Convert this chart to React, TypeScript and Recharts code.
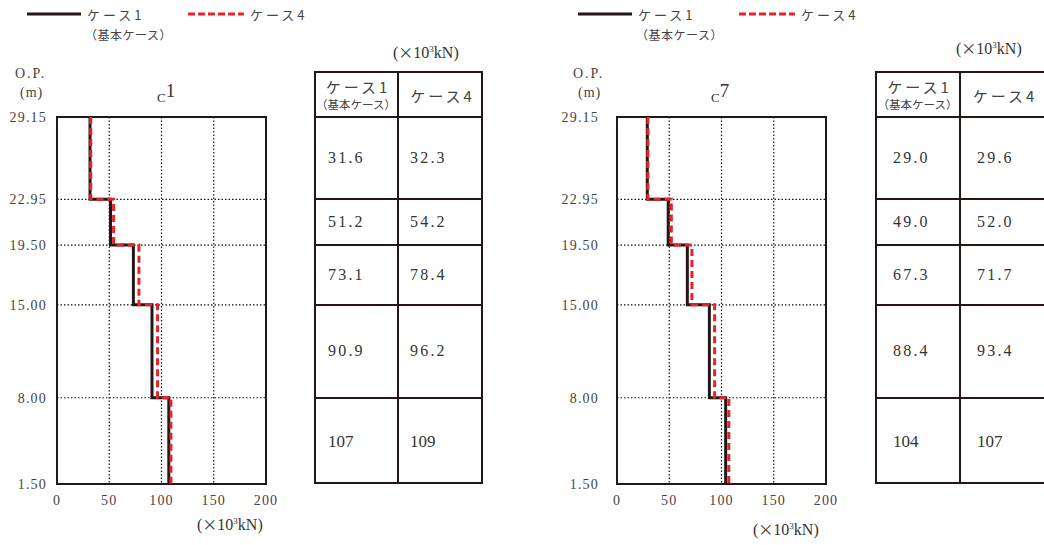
import { LineChart, Line, XAxis, YAxis, CartesianGrid, ReferenceArea } from "recharts";

// elevations (O.P. m) of the step boundaries, top to bottom
const levels = [29.15, 22.95, 19.5, 15.0, 8.0, 1.5];
const xTicks = [0, 50, 100, 150, 200];

const c1Case1 = [31.6, 51.2, 73.1, 90.9, 107];
const c1Case4 = [32.3, 54.2, 78.4, 96.2, 109];
const c7Case1 = [29.0, 49.0, 67.3, 88.4, 104];
const c7Case4 = [29.6, 52.0, 71.7, 93.4, 107];

const c1Text1 = ["31.6", "51.2", "73.1", "90.9", "107"];
const c1Text4 = ["32.3", "54.2", "78.4", "96.2", "109"];
const c7Text1 = ["29.0", "49.0", "67.3", "88.4", "104"];
const c7Text4 = ["29.6", "52.0", "71.7", "93.4", "107"];

const case1Label = "ケース1";
const case1Sub = "（基本ケース）";
const case4Label = "ケース4";

const BLACK = "#231815";
const RED = "#e8222b";
const serif = '"Liberation Serif", "Noto Sans CJK JP", serif';
const jp = '"Noto Sans CJK JP", sans-serif';

const PLOT_TOP = 117;
const PLOT_BOTTOM = 484;
const yPx = (lv: number) =>
  PLOT_TOP + ((levels[0] - lv) / (levels[0] - levels[levels.length - 1])) * (PLOT_BOTTOM - PLOT_TOP);

const toSteps = (vals: number[]) =>
  vals.flatMap((v, i) => [
    { x: v, y: levels[i] },
    { x: v, y: levels[i + 1] },
  ]);

type PanelProps = {
  left: number;
  tickGap: number;
  legendX: number;
  titleX: number;
  title: string;
  opX: number;
  unitX: number;
  unitY: number;
  tableL: number;
  tableSplit: number;
  tableR: number;
  tableUnitX: number;
  tableUnitY: number;
  padL: number;
  padR: number;
  case1: number[];
  case4: number[];
  text1: string[];
  text4: string[];
};

const tickStyle = { fontFamily: serif, fontSize: 14, fill: "#444", letterSpacing: 1.2 };

function Unit({ x, y }: { x: number; y: number }) {
  return (
    <div style={{ position: "absolute", left: x, top: y, transform: "translateY(-50%)", fontFamily: serif, fontSize: 16, color: "#333", whiteSpace: "nowrap", lineHeight: 1 }}>
      (<span style={{ fontFamily: jp, fontSize: 15 }}>×</span>10<span style={{ fontSize: 9, verticalAlign: 6 }}>3</span>kN)
    </div>
  );
}

function Panel(p: PanelProps) {
  const bounds = levels.map(yPx);
  const cellText = (txt: string, x: number, top: number, h: number, key: string) => {
    const plain = !txt.includes(".");
    return (
      <div key={key} style={{ position: "absolute", left: x, top: top + h / 2, transform: "translateY(-50%)", fontFamily: serif, fontSize: plain ? 17 : 16, letterSpacing: plain ? 0 : 2.2, color: "#333", lineHeight: 1 }}>
        {txt}
      </div>
    );
  };
  return (
    <>
      {/* legend */}
      <svg style={{ position: "absolute", left: p.legendX, top: 8 }} width={230} height={14}>
        <line x1={0} x2={54} y1={6} y2={6} stroke={BLACK} strokeWidth={3} />
        <line x1={161} x2={217} y1={6} y2={6} stroke={RED} strokeWidth={3} strokeDasharray="7 3" />
      </svg>
      <div style={{ position: "absolute", left: p.legendX + 60, top: 14, transform: "translateY(-50%)", fontFamily: jp, fontSize: 13, letterSpacing: 3, color: "#444", lineHeight: 1 }}>{case1Label}</div>
      <div style={{ position: "absolute", left: p.legendX + 58, top: 35, transform: "translateY(-50%)", fontFamily: jp, fontSize: 12, letterSpacing: 0.5, color: "#444", lineHeight: 1 }}>{case1Sub}</div>
      <div style={{ position: "absolute", left: p.legendX + 223, top: 14, transform: "translateY(-50%)", fontFamily: jp, fontSize: 13, letterSpacing: 3, color: "#444", lineHeight: 1 }}>{case4Label}</div>

      {/* O.P. label and title */}
      <div style={{ position: "absolute", left: p.opX, top: 74, transform: "translateY(-50%)", fontFamily: serif, fontSize: 14, letterSpacing: 2, color: "#444", lineHeight: 1 }}>O.P.</div>
      <div style={{ position: "absolute", left: p.opX + 5, top: 93, transform: "translateY(-50%)", fontFamily: serif, fontSize: 14, letterSpacing: 1, color: "#444", lineHeight: 1 }}>(m)</div>
      <div style={{ position: "absolute", left: p.titleX, top: 81, fontFamily: serif, color: "#333", lineHeight: 1, whiteSpace: "nowrap" }}>
        <span style={{ fontSize: 13, position: "relative", top: 5 }}>C</span>
        <span style={{ fontSize: 19 }}>{p.title}</span>
      </div>

      <div style={{ position: "absolute", left: p.left, top: 0 }}>
        <LineChart width={300} height={545} margin={{ top: PLOT_TOP, right: 34, bottom: 31, left: 7 }}>
          <CartesianGrid stroke="#111" strokeWidth={1.2} strokeDasharray="1.5 2" />
          <XAxis
            type="number"
            dataKey="x"
            domain={[0, 200]}
            ticks={xTicks}
            interval={0}
            height={30}
            tickLine={false}
            axisLine={false}
            tickSize={0}
            tickMargin={11}
            tick={tickStyle}
          />
          <YAxis
            type="number"
            domain={[levels[levels.length - 1], levels[0]]}
            ticks={levels}
            interval={0}
            width={50}
            tickLine={false}
            axisLine={false}
            tickSize={0}
            tickMargin={p.tickGap}
            tickFormatter={(v: number) => v.toFixed(2)}
            tick={tickStyle}
          />
          <ReferenceArea x1={0} x2={200} y1={levels[levels.length - 1]} y2={levels[0]} fill="none" stroke={BLACK} strokeWidth={2} fillOpacity={0} strokeOpacity={1} />
          <Line data={toSteps(p.case1)} dataKey="y" type="linear" stroke={BLACK} strokeWidth={3} dot={false} isAnimationActive={false} />
          <Line data={toSteps(p.case4)} dataKey="y" type="linear" stroke={RED} strokeWidth={3} strokeDasharray="7 4" dot={false} isAnimationActive={false} />
        </LineChart>
      </div>

      <Unit x={p.unitX} y={p.unitY} />
      <Unit x={p.tableUnitX} y={p.tableUnitY} />

      {/* table */}
      <div style={{ position: "absolute", left: p.tableL, top: 71, width: p.tableR - p.tableL, height: bounds[bounds.length - 1] - 71, border: `2px solid ${BLACK}`, boxSizing: "border-box" }} />
      <div style={{ position: "absolute", left: p.tableSplit - 1, top: 71, width: 2, height: bounds[bounds.length - 1] - 71, background: BLACK }} />
      {bounds.slice(0, -1).map((b, i) => (
        <div key={"h" + i} style={{ position: "absolute", left: p.tableL, top: b - 1, width: p.tableR - p.tableL, height: 2, background: BLACK }} />
      ))}
      <div style={{ position: "absolute", left: p.tableL + 2, width: p.tableSplit - p.tableL, top: 79, textAlign: "center", fontFamily: jp, fontSize: 15, letterSpacing: 3, color: "#444", lineHeight: 1 }}>{case1Label}</div>
      <div style={{ position: "absolute", left: p.tableL, width: p.tableSplit - p.tableL, top: 99, textAlign: "center", fontFamily: jp, fontSize: 11.5, color: "#444", lineHeight: 1 }}>{case1Sub}</div>
      <div style={{ position: "absolute", left: p.tableSplit + 2, width: p.tableR - p.tableSplit, top: 95, transform: "translateY(-50%)", textAlign: "center", fontFamily: jp, fontSize: 15, letterSpacing: 3, color: "#444", lineHeight: 1 }}>{case4Label}</div>
      {p.text1.map((t, i) => cellText(t, p.tableL + p.padL, bounds[i], bounds[i + 1] - bounds[i], "a" + i))}
      {p.text4.map((t, i) => cellText(t, p.tableSplit + p.padR, bounds[i], bounds[i + 1] - bounds[i], "b" + i))}
    </>
  );
}

export default function App() {
  return (
    <div style={{ position: "absolute", left: 0, top: 0, width: 1044, height: 545, background: "#fff", overflow: "hidden" }}>
      <Panel
        left={0}
        tickGap={10}
        legendX={27}
        titleX={157}
        title="1"
        opX={15}
        unitX={197}
        unitY={524}
        tableL={314}
        tableSplit={398}
        tableR={483}
        tableUnitX={393}
        tableUnitY={52}
        padL={14}
        padR={12}
        case1={c1Case1}
        case4={c1Case4}
        text1={c1Text1}
        text4={c1Text4}
      />
      <Panel
        left={560}
        tickGap={18}
        legendX={578}
        titleX={711}
        title="7"
        opX={573}
        unitX={753}
        unitY={529}
        tableL={875}
        tableSplit={960}
        tableR={1046}
        tableUnitX={956}
        tableUnitY={48}
        padL={18}
        padR={17}
        case1={c7Case1}
        case4={c7Case4}
        text1={c7Text1}
        text4={c7Text4}
      />
    </div>
  );
}
